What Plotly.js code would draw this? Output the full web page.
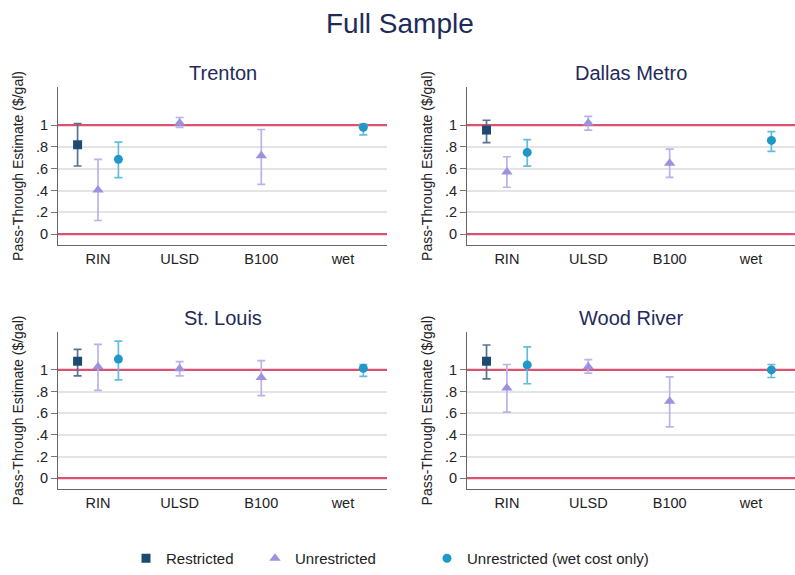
<!DOCTYPE html>
<html>
<head>
<meta charset="utf-8">
<script src="https://cdn.plot.ly/plotly-3.0.1.min.js"></script>
<style>
  html, body { margin: 0; padding: 0; background: #fff; }
  #myDiv { width: 795px; height: 575px; }
</style>
</head>
<body>
<div id="myDiv"></div>
<script>
// categories on the x axis
const categories = ["RIN", "ULSD", "B100", "wet"];
const cities = ["Trenton", "Dallas Metro", "St. Louis", "Wood River"];
const yTickVals = [0, 0.2, 0.4, 0.6, 0.8, 1];
const yTickText = ["0", ".2", ".4", ".6", ".8", "1"];
const refLines = [0, 1];
const xRange = [0.51, 4.54];
const yRange = [-0.1, 1.35];

// Restricted: RIN only (one per city)
const restrictedCats = ["RIN"];
const restrictedEst = [[0.82], [0.955], [1.08], [1.08]];
const restrictedLo = [[0.625], [0.84], [0.945], [0.918]];
const restrictedHi = [[1.015], [1.045], [1.19], [1.23]];

// Unrestricted: RIN, ULSD, B100
const unrestrictedCats = ["RIN", "ULSD", "B100"];
const unrestrictedEst = [[0.405, 1.02, 0.72], [0.57, 1.02, 0.65], [1.03, 1.01, 0.93], [0.832, 1.03, 0.71]];
const unrestrictedLo = [[0.125, 0.98, 0.457], [0.43, 0.955, 0.52], [0.81, 0.945, 0.762], [0.61, 0.97, 0.473]];
const unrestrictedHi = [[0.686, 1.07, 0.96], [0.71, 1.08, 0.78], [1.235, 1.076, 1.085], [1.05, 1.095, 0.936]];

// Unrestricted (wet cost only): RIN, wet
const wetCats = ["RIN", "wet"];
const wetEst = [[0.686, 0.98], [0.75, 0.86], [1.10, 1.015], [1.046, 1.0]];
const wetLo = [[0.518, 0.91], [0.624, 0.76], [0.908, 0.94], [0.872, 0.93]];
const wetHi = [[0.845, 1.01], [0.867, 0.94], [1.265, 1.05], [1.213, 1.05]];

const series = [
  { name: "Restricted", cats: restrictedCats, est: restrictedEst, lo: restrictedLo, hi: restrictedHi,
    offset: -0.25, symbol: "square", size: 9, color: "#1c4a72", barColor: "#58728e", legend: "legend" },
  { name: "Unrestricted", cats: unrestrictedCats, est: unrestrictedEst, lo: unrestrictedLo, hi: unrestrictedHi,
    offset: 0, symbol: "triangle-up", size: 10, color: "#9d92e0", barColor: "#bab2ec", legend: "legend2" },
  { name: "Unrestricted (wet cost only)", cats: wetCats, est: wetEst, lo: wetLo, hi: wetHi,
    offset: 0.25, symbol: "circle", size: 9, color: "#1f98c9", barColor: "#62bcdd", legend: "legend3" }
];

const W = 795, H = 575;
const py = p => (H - p) / H; // pixel row -> paper fraction

// panel boxes in pixels: [left, right, top, bottom]
const boxes = [
  [58, 387, 87, 245],
  [467, 795, 87, 245],
  [58, 387, 332, 489],
  [467, 795, 332, 489]
];

let data = [];
let layout = {
  width: W,
  height: H,
  margin: { l: 0, r: 0, t: 0, b: 0 },
  paper_bgcolor: "#fff",
  plot_bgcolor: "#fff",
  font: { family: "Liberation Sans, Arial, sans-serif", color: "#222" },
  title: { text: "Full Sample", x: 0.503, xanchor: "center", y: 1 - 23 / H, yanchor: "middle",
           font: { size: 28, color: "#1e2a5a" } },
  showlegend: true,
  annotations: []
};

cities.forEach((city, i) => {
  const n = i + 1;
  const xa = n === 1 ? "x" : "x" + n;
  const ya = n === 1 ? "y" : "y" + n;
  const xKey = n === 1 ? "xaxis" : "xaxis" + n;
  const yKey = n === 1 ? "yaxis" : "yaxis" + n;
  const b = boxes[i];

  // red reference lines at 0 and 1, drawn first so markers sit on top
  refLines.forEach(v => {
    data.push({
      x: xRange,
      y: [v, v],
      xaxis: xa,
      yaxis: ya,
      type: "scatter",
      mode: "lines",
      line: { color: "#da5270", width: 2.2 },
      showlegend: false,
      hoverinfo: "skip"
    });
  });

  series.forEach(s => {
    const xs = s.cats.map(c => categories.indexOf(c) + 1 + s.offset);
    const ys = s.est[i];
    data.push({
      x: xs,
      y: ys,
      xaxis: xa,
      yaxis: ya,
      name: s.name,
      type: "scatter",
      mode: "markers",
      legend: s.legend,
      showlegend: i === 0,
      marker: { symbol: s.symbol, size: s.size, color: s.color },
      error_y: {
        type: "data",
        symmetric: false,
        array: s.hi[i].map((h, k) => h - ys[k]),
        arrayminus: s.lo[i].map((l, k) => ys[k] - l),
        color: s.barColor,
        thickness: 1.7,
        width: 4
      },
      cliponaxis: false
    });
  });

  layout[xKey] = {
    domain: [b[0] / W, b[1] / W],
    anchor: ya,
    range: xRange,
    tickvals: [1, 2, 3, 4],
    ticktext: categories,
    ticks: "outside",
    ticklen: 1,
    tickcolor: "rgba(0,0,0,0)",
    showgrid: false,
    zeroline: false,
    showline: true,
    linecolor: "#666",
    linewidth: 1,
    tickfont: { size: 14.5, color: "#222" },
    automargin: false
  };
  layout[yKey] = {
    domain: [py(b[3]), py(b[2])],
    anchor: xa,
    range: yRange,
    tickvals: yTickVals,
    ticktext: yTickText,
    ticks: "outside",
    ticklen: 6,
    tickcolor: "#777",
    showgrid: true,
    gridcolor: "#e4e4e4",
    gridwidth: 2,
    zeroline: false,
    showline: true,
    linecolor: "#666",
    linewidth: 1,
    tickfont: { size: 14.5, color: "#222" },
    title: { text: "Pass-Through Estimate ($/gal)", font: { size: 14, color: "#222" }, standoff: 9 },
    automargin: false
  };

  layout.annotations.push({
    text: city,
    xref: "paper",
    yref: "paper",
    x: (b[0] + b[1]) / 2 / W,
    y: py(b[2] - 14),
    xanchor: "center",
    yanchor: "middle",
    showarrow: false,
    font: { size: 20, color: "#1e2a5a" }
  });
});

// one legend per entry so each can be placed like the original;
// anchored at the bottom edge so they do not push the margins
const legendX = [126, 255, 427];
["legend", "legend2", "legend3"].forEach((key, k) => {
  layout[key] = {
    x: legendX[k] / W,
    xanchor: "left",
    y: 0,
    yanchor: "bottom",
    orientation: "h",
    bgcolor: "rgba(0,0,0,0)",
    font: { size: 15, color: "#222" }
  };
});

Plotly.newPlot("myDiv", data, layout, { displayModeBar: false, staticPlot: true });
</script>
</body>
</html>
